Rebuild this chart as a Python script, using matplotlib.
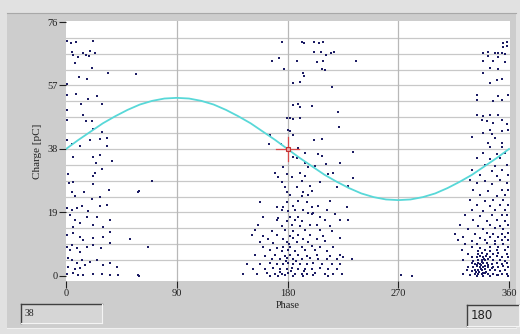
import numpy as np
import matplotlib
matplotlib.use("Agg")
import matplotlib.pyplot as plt
from matplotlib.patches import Rectangle
from matplotlib.lines import Line2D

W, H = 520, 334

# reference curve (phase in degrees, charge in pC)
curve_phase = list(range(0, 361, 10))
curve_charge = [38.0, 40.7, 43.2, 45.7, 47.8, 49.7, 51.3, 52.4, 53.1, 53.3,
                53.1, 52.4, 51.3, 49.7, 47.8, 45.7, 43.2, 40.7, 38.0,
                35.3, 32.8, 30.3, 28.2, 26.3, 24.7, 23.6, 22.9, 22.7,
                22.9, 23.6, 24.7, 26.3, 28.2, 30.3, 32.8, 35.3, 38.0]

# discharge pulses (phase, charge)
left_pts = [
    (0.5, 70.2), (4, 69.8), (8, 70.1), (22, 70.4),
    (4.6, 66.9), (6, 66.2), (13.5, 66.6), (16, 66.0), (19.5, 67.2), (23.6, 66.8),
    (10, 65.4), (19, 65.7), (7.3, 63.8), (21, 62.1),
    (34, 60.6), (57, 60.4), (10.6, 59.6), (16.8, 58.9), (0.5, 57.4),
    (1, 54.1), (8, 54.6), (25, 54.0), (17.6, 52.9), (12, 51.4), (29.5, 51.6),
    (0.5, 49.6), (14, 48.1), (0.5, 46.8), (16, 46.4), (21, 46.5),
    (22, 44.0), (29.5, 43.2), (33, 41.4), (27.6, 41.0), (19.5, 40.6), (1, 40.8),
    (4.6, 39.5), (11, 39.0), (33, 38.9),
    (6, 35.5), (22, 35.6), (27.6, 36.2), (37.2, 34.5), (24, 33.7),
    (21.7, 30.0), (23.6, 30.8), (29, 32.0), (2, 30.5),
    (6, 28.0), (2.7, 27.7), (21.7, 27.6),
    (4.6, 25.0), (7.3, 24.0), (14.6, 25.1), (20.9, 22.9), (27.6, 23.7), (35.2, 25.7), (58.8, 25.0),
    (0.5, 20.3), (4.6, 19.8), (8.7, 20.4), (12.8, 20.8), (18, 19.3), (27.6, 21.0), (33, 21.3),
    (3.3, 18.3), (7.3, 16.8), (11.4, 15.8), (16.8, 17.8), (25, 17.7), (35.8, 16.8),
    (30.3, 14.8), (22, 15.3), (6, 14.7),
    (0.5, 12.3), (6, 12.8), (11.4, 11.8), (14, 10.8), (22, 11.3), (30.3, 11.8), (35.8, 13.3), (52, 11.0),
    (0.5, 8.8), (4.6, 9.3), (8.7, 8.3), (16.8, 8.8), (22, 9.3), (28.8, 8.3), (35.8, 9.8),
    (11.4, 7.3), (3.3, 7.8),
    (2, 5.3), (4.6, 4.8), (8.7, 3.8), (12.8, 4.8), (15.4, 3.3), (19.5, 4.3), (25, 4.8),
    (30.3, 3.3), (35.8, 3.8), (41.3, 2.8), (1.9, 2.8), (7.3, 2.0), (11.4, 2.3),
    (1, 0.6), (6, 0.8), (10, 0.4), (14, 0.2), (22, 0.7), (29, 0.5), (36, 0.2), (42.5, 0.4), (58.8, 0.3),
]

stray_pts = [
    (69.6, 28.5), (59.6, 25.5), (52, 11.0), (66.6, 8.7), (59.6, 0.1),
    (235.7, 64.2), (233, 37.2), (233, 29.2), (229.4, 16.8), (225.3, 5.8),
    (232.2, 5.0), (272.2, 0.2), (280.9, 0.1),
]

mid_pts = [
    (175.9, 69.9), (191.8, 70.1), (193.4, 69.8), (201.5, 70.0), (205.9, 69.7), (209.1, 70.1),
    (201.5, 66.9), (207.2, 67.1), (215, 66.8), (217.8, 66.9), (211.3, 66.0), (173.3, 65.2),
    (167.7, 64.2), (188, 64.4), (204, 64.0), (209, 64.3), (207.8, 62.0), (210.5, 61.7), (177, 61.8),
    (192.8, 60.7), (193.7, 59.7), (184.7, 57.7), (190, 57.9), (215.9, 56.7),
    (184.7, 51.2), (188.8, 51.4), (199.6, 51.0), (190, 50.5), (221.3, 49.2),
    (179.3, 47.2), (182, 47.4), (184.7, 47.0), (190, 47.3), (222, 44.7),
    (180.1, 43.7), (182, 43.5), (165.8, 42.2), (184.7, 42.3), (201.5, 40.7), (208.4, 40.9),
    (165.2, 39.5), (174.6, 39.4), (188.8, 38.2),
    (194.2, 36.7), (205.1, 36.6), (184.7, 35.7), (188, 35.4), (207.8, 35.8),
    (194.2, 33.7), (211.3, 33.5), (222.6, 33.8), (176.6, 32.7), (196.9, 32.5), (202.3, 32.8),
    (169.8, 30.7), (179.3, 30.5), (190.1, 30.9), (213.2, 30.6), (217.2, 30.8),
    (172.5, 29.7), (183.4, 29.5), (194.2, 29.8), (175.2, 28.2), (191.5, 28.3), (206.4, 28.0),
    (177.9, 26.7), (187.5, 26.5), (198.3, 26.9), (219.9, 26.6), (229.4, 26.8),
    (179.3, 25.2), (192.8, 25.0), (199.6, 25.3), (182, 24.2), (191.5, 24.0), (196.9, 24.3),
    (157.6, 22.2), (179.3, 22.0), (188.8, 22.4), (195.6, 22.1), (214.5, 22.3),
    (171.1, 20.7), (176.6, 20.5), (184.7, 20.9), (199.6, 20.6), (205.1, 20.8), (228.1, 20.7),
    (175.2, 19.7), (180.6, 19.5), (186.1, 19.8), (192.8, 19.6), (211.8, 19.7),
    (196.9, 18.7), (199.6, 18.5), (201, 18.8), (218.6, 18.6),
    (160.3, 17.7), (172.5, 17.5), (182, 17.8), (188.8, 17.6), (206.4, 17.7),
    (171.1, 16.7), (179.3, 16.5), (186.1, 16.8), (191.5, 16.6), (210.5, 16.7), (222.6, 16.9),
    (156.3, 15.2), (175.2, 15.0), (183.4, 15.3), (190.1, 15.1), (198.3, 15.2), (203.6, 15.4), (214.5, 15.1),
    (153.6, 13.7), (167.1, 13.5), (177.9, 13.8), (184.7, 13.6), (194.2, 13.7), (206.4, 13.9), (215.9, 13.6),
    (150.9, 12.2), (160.3, 12.0), (171.1, 12.3), (182, 12.1), (188.8, 12.4), (198.3, 12.2), (209.1, 12.0),
    (164.4, 11.2), (176.6, 11.0), (184.7, 11.3), (192.8, 11.1), (203.6, 11.2), (222.6, 11.4),
    (157.6, 10.2), (168.4, 10.0), (179.3, 10.3), (187.5, 10.1), (196.9, 10.2), (210.5, 10.4),
    (160.3, 8.7), (171.1, 8.5), (176.6, 8.8), (182, 8.6), (191.5, 8.7), (199.6, 8.9), (206.4, 8.6), (217.2, 8.7),
    (165.8, 7.7), (175.2, 7.5), (180.6, 7.8), (186.1, 7.6), (194.2, 7.7), (202.3, 7.9), (211.8, 7.6),
    (153.6, 6.2), (161.7, 6.0), (169.8, 6.3), (177.9, 6.1), (182, 6.2), (188.8, 6.4), (195.6, 6.1),
    (203.6, 6.2), (214.5, 6.0), (222.6, 6.3),
    (167.1, 5.2), (173.9, 5.0), (179.3, 5.3), (184.7, 5.1), (191.5, 5.2), (198.3, 5.4), (205.1, 5.1),
    (211.8, 5.2), (219.9, 5.0),
    (146.8, 3.7), (157.6, 3.5), (165.8, 3.8), (171.1, 3.6), (176.6, 3.7), (180.6, 3.9), (184.7, 3.6),
    (190.1, 3.7), (195.6, 3.5), (201, 3.8), (207.8, 3.6), (215.9, 3.7), (222.6, 3.5),
    (152.2, 2.2), (161.7, 2.0), (168.4, 2.3), (173.9, 2.1), (179.3, 2.2), (183.4, 2.4), (188.8, 2.1),
    (194.2, 2.2), (199.6, 2.0), (206.4, 2.3), (213.2, 2.1), (219.9, 2.2),
    (144.1, 0.7), (154.9, 0.5), (163, 0.8), (169.8, 0.6), (175.2, 0.7), (180.6, 0.9), (186.1, 0.6),
    (191.5, 0.7), (195.6, 0.5), (202.3, 0.8), (210.5, 0.6), (217.2, 0.7), (224, 0.5),
    (165.8, 0.1), (172.5, 0.0), (177.9, 0.2), (184.7, 0.1), (192.8, 0.0), (200.9, 0.2), (213.2, 0.1),
    (178.5, 4.5), (182.5, 1.4), (187.2, 4.4), (181.2, 9.5), (174.0, 1.3), (193.0, 1.4),
]

right_pts = [
    (354.8, 69.7), (358.6, 69.9), (358.6, 68.7), (355.4, 68.5),
    (339.1, 66.7), (343.2, 66.9), (348.6, 66.6), (351.3, 66.8), (354, 66.7), (356.7, 66.5),
    (343.2, 65.7), (351.3, 65.5), (339.1, 64.2), (347.2, 64.4), (356.7, 64.1),
    (344.5, 62.2), (351.3, 62.0), (339.1, 60.7), (349.9, 58.7), (354, 58.9), (344.5, 57.7),
    (333.7, 54.2), (351.3, 54.0), (359.4, 54.3), (333.7, 52.7), (347.2, 52.5), (354, 52.8),
    (333.7, 48.2), (339.1, 48.0), (344.5, 48.3), (351.3, 48.1), (337.8, 46.7), (341.8, 46.5), (354, 46.8),
    (347.2, 45.7), (358.1, 45.5), (344.5, 43.7), (354, 43.5), (359.4, 43.8), (339.1, 42.7), (345.9, 42.5),
    (329.7, 41.5), (348.6, 41.3), (343.2, 39.7), (354, 39.9), (344.5, 38.7), (354, 38.5),
    (339.1, 36.7), (349.9, 36.5), (356.7, 36.8), (333.7, 35.2), (344.5, 35.0), (352.6, 35.3),
    (340.4, 33.2), (348.6, 33.0), (358.1, 33.3), (329.7, 31.7), (345.9, 31.5), (354, 31.8),
    (336.4, 30.2), (349.9, 30.0), (359.4, 30.3), (328.3, 28.7), (340.4, 28.5), (352.6, 28.8),
    (333.7, 27.7), (345.9, 27.5), (358.1, 27.8),
    (331, 25.7), (343.2, 25.5), (354, 25.8), (359.4, 25.6), (336.4, 24.2), (349.9, 24.0), (356.7, 24.3),
    (328.3, 22.7), (340.4, 22.5), (347.2, 22.8), (355.4, 22.6),
    (333.7, 21.2), (344.5, 21.0), (352.6, 21.3), (359.4, 21.1),
    (329.7, 19.7), (339.1, 19.5), (348.6, 19.8), (356.7, 19.6),
    (324.3, 18.2), (336.4, 18.0), (345.9, 18.3), (354, 18.1), (358.6, 18.2),
    (331, 16.7), (341.8, 16.5), (349.9, 16.8), (356.7, 16.6),
    (320.2, 15.2), (335.1, 15.0), (344.5, 15.3), (352.6, 15.1), (359.4, 15.2),
    (326.9, 14.2), (339.1, 14.0), (348.6, 14.3), (355.4, 14.1),
    (316.2, 12.7), (332.4, 12.5), (341.8, 12.8), (347.2, 12.6), (354, 12.7), (359.4, 12.9),
    (322.9, 11.7), (336.4, 11.5), (344.5, 11.8), (351.3, 11.6), (356.7, 11.7),
    (318.8, 10.7), (329.7, 10.5), (340.4, 10.8), (348.6, 10.6), (354, 10.7), (359.4, 10.9),
    (324.3, 9.7), (333.7, 9.5), (341.8, 9.8), (348.6, 9.6), (355.4, 9.7),
    (329.7, 8.7), (336.4, 8.5), (344.5, 8.8), (351.3, 8.6), (359.4, 8.7),
    (321.5, 7.7), (335.1, 7.5), (340.4, 7.8), (344.5, 7.6), (349.9, 7.7), (356.7, 7.9),
    (326.9, 6.7), (335.1, 6.5), (337.8, 6.8), (341.8, 6.6), (347.2, 6.7), (351.3, 6.9), (358.1, 6.6),
    (329.7, 5.8), (333.7, 5.6), (336.4, 5.9), (339.1, 5.7), (344.5, 5.8), (349.9, 6.0), (354, 5.7), (359.4, 5.8),
    (322.9, 4.8), (331, 4.6), (335.1, 4.9), (337.8, 4.7), (340.4, 4.8), (343.2, 5.0), (347.2, 4.7),
    (352.6, 4.8), (356.7, 4.6),
    (329.7, 3.8), (332.4, 3.6), (335.1, 3.9), (336.4, 3.7), (339.1, 3.8), (341.8, 4.0), (345.9, 3.7),
    (349.9, 3.8), (354, 3.6), (358.1, 3.9),
    (326.9, 2.8), (331, 2.6), (333.7, 2.9), (336.4, 2.7), (339.1, 2.8), (340.4, 3.0), (343.2, 2.7),
    (347.2, 2.8), (351.3, 2.6), (355.4, 2.9), (359.4, 2.7),
    (325.6, 1.8), (329.7, 1.6), (332.4, 1.9), (335.1, 1.7), (337.8, 1.8), (340.4, 2.0), (344.5, 1.7),
    (348.6, 1.8), (352.6, 1.6), (356.7, 1.9),
    (322.9, 0.6), (328.3, 0.4), (332.4, 0.7), (335.1, 0.5), (337.8, 0.6), (340.4, 0.8), (343.2, 0.5),
    (347.2, 0.6), (349.9, 0.4), (354, 0.7), (358.1, 0.5),
    (333.7, 0.0), (339.1, 0.1), (344.5, 0.0), (351.3, 0.2), (359.4, 0.1),
    (334.2, 3.2), (338.0, 4.3), (341.0, 1.2), (336.9, 2.2), (342.6, 3.3), (339.7, 5.2), (335.6, 1.2),
    (337.2, 3.4), (340.9, 6.1), (346.3, 2.3), (333.0, 1.3), (338.5, 0.9),
]

cursor_phase = 180
cursor_charge = 38

# figure / panel colours
outer_bg = "#e1e1e1"
panel_bg = "#cdcdcd"
dot_color = "#1c1c64"


def px(x, y):
    # pixel position (top-left origin) -> figure fraction
    return x / W, 1 - y / H


fig = plt.figure(figsize=(W / 100, H / 100), dpi=100, facecolor=outer_bg)

# grey instrument panel
x0, y0 = px(7, 328)
fig.patches.append(Rectangle((x0, y0), (516 - 7) / W, (328 - 13) / H,
                             transform=fig.transFigure, facecolor=panel_bg,
                             edgecolor="none", zorder=-5))
fig.add_artist(Line2D([7 / W, 516 / W], [1 - 13 / H] * 2, color="#a8a8a8", lw=0.8, zorder=-4))
fig.add_artist(Line2D([7 / W, 516 / W], [1 - 328 / H] * 2, color="#f0f0f0", lw=0.8, zorder=-4))

ax = fig.add_axes([66 / W, 1 - 281 / H, 444 / W, 260 / H])
ax.set_zorder(5)
ax.set_facecolor("white")
ax.set_xlim(0, 360.8)
ax.set_ylim(-1.5, 76.3)

# grid
for g in np.arange(4.75, 76, 4.75):
    ax.axhline(g, color="#c8c8c8", lw=0.9, zorder=1)
for g in [90, 180, 270]:
    ax.axvline(g, color="#b8b8b8", lw=0.9, zorder=1)

for pts in [left_pts, stray_pts, mid_pts, right_pts]:
    arr = np.array(pts)
    ax.scatter(arr[:, 0], arr[:, 1], s=1.3, marker="s", color=dot_color,
               linewidths=0, zorder=3)

ax.plot(curve_phase, curve_charge, color="#58d8d8", lw=1.3, zorder=4)

# cursor
ax.plot([cursor_phase - 9.5, cursor_phase + 9.5], [cursor_charge] * 2,
        color="#d84848", lw=0.9, zorder=5)
ax.plot([cursor_phase] * 2, [cursor_charge - 3.6, cursor_charge + 3.6],
        color="#d84848", lw=0.9, zorder=5)
ax.plot([cursor_phase], [cursor_charge], marker="s", ms=3.5, mfc="#f0a0a0",
        mec="#c03030", mew=0.8, zorder=6)

for s in ax.spines.values():
    s.set_visible(False)

ax.set_xticks([0, 90, 180, 270, 360])
ax.set_yticks([0, 19, 38, 57, 76])
ax.tick_params(axis="both", length=5, width=0.8, color="#202020",
               labelsize=7.5, labelcolor="#202020", pad=1)
for lab in ax.get_xticklabels() + ax.get_yticklabels():
    lab.set_fontfamily("Liberation Serif")

ax.set_xlabel("Phase", fontfamily="Liberation Serif", fontsize=7.5,
              color="#202020", labelpad=2)
ax.set_ylabel("Charge [pC]", fontfamily="Liberation Serif", fontsize=8,
              color="#202020", labelpad=4)


def sunken_box(x1, y1, x2, y2, text, family, size):
    bx, by = px(x1, y2)
    fig.patches.append(Rectangle((bx, by), (x2 - x1) / W, (y2 - y1) / H,
                                 transform=fig.transFigure, facecolor="#d6d6d6",
                                 edgecolor="none", zorder=1))
    fig.add_artist(Line2D([x1 / W, x2 / W], [1 - y1 / H] * 2, color="#404040", lw=1.0))
    fig.add_artist(Line2D([x1 / W] * 2, [1 - y1 / H, 1 - y2 / H], color="#404040", lw=1.0))
    fig.add_artist(Line2D([x1 / W, x2 / W], [1 - y2 / H] * 2, color="#f4f4f4", lw=0.8))
    fig.add_artist(Line2D([x2 / W] * 2, [1 - y1 / H, 1 - y2 / H], color="#f4f4f4", lw=0.8))
    tx, ty = px(x1 + 4, (y1 + y2) / 2)
    fig.text(tx, ty, text, ha="left", va="center", fontfamily=family,
             fontsize=size, color="#202020")


sunken_box(21, 304, 102, 323, "38", "Liberation Serif", 7)
sunken_box(467, 305, 519, 326, "180", "DejaVu Sans", 8.5)

fig.savefig("out.png", dpi=100, facecolor=fig.get_facecolor())
